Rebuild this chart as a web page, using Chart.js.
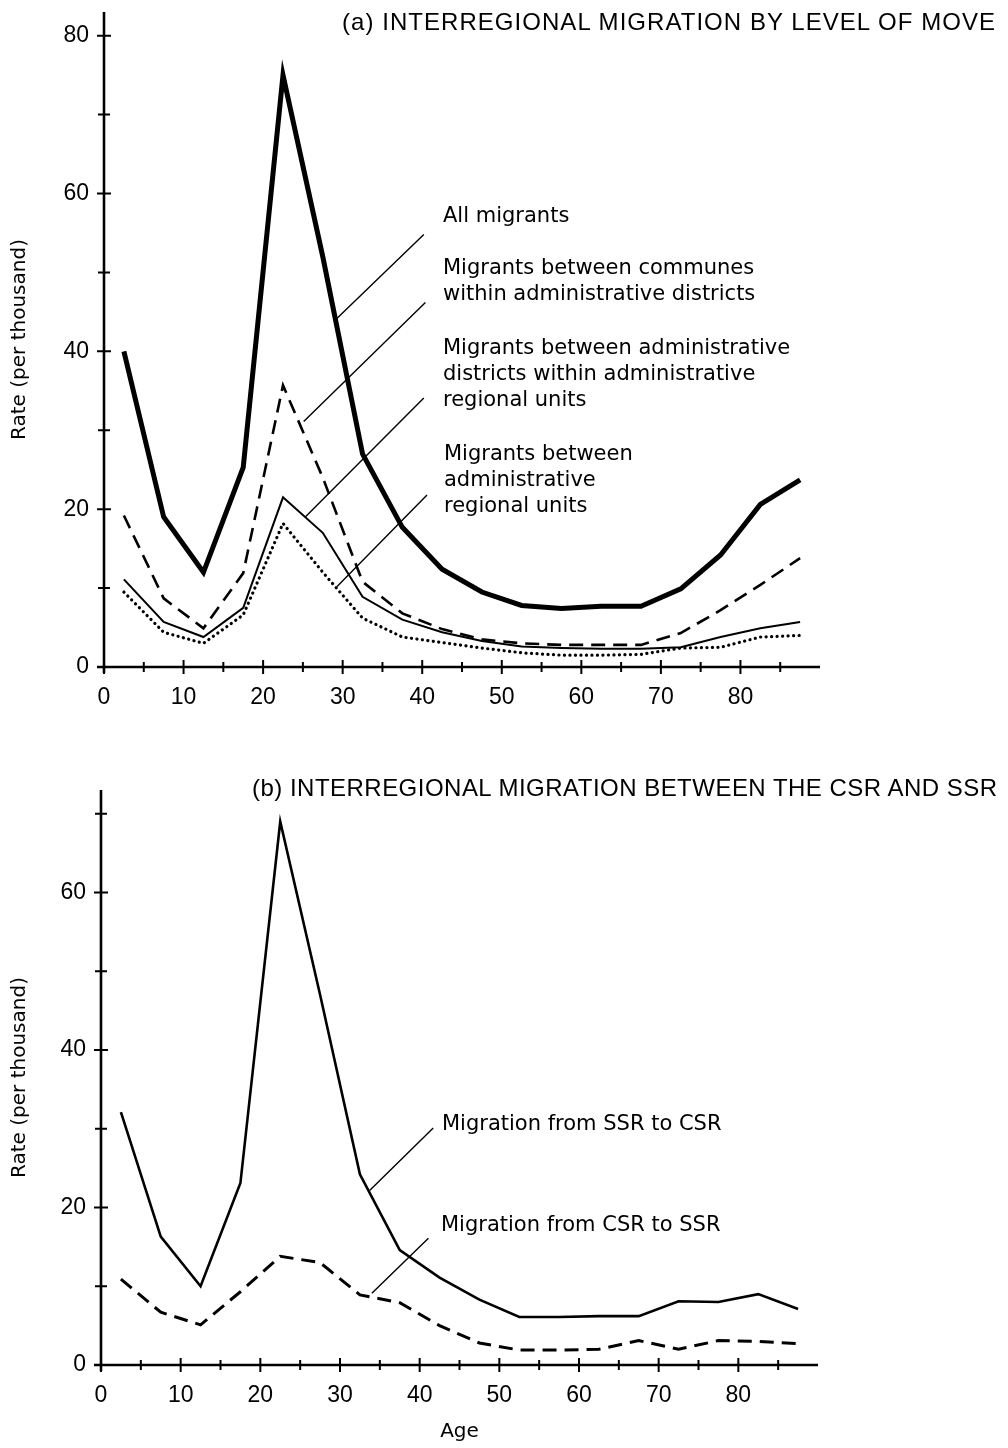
<!DOCTYPE html>
<html>
<head>
<meta charset="utf-8">
<script src="https://cdn.jsdelivr.net/npm/chart.js@4.4.0/dist/chart.umd.min.js"></script>
<style>
  body { margin: 0; background: #fff; }
  #page { position: relative; width: 1008px; height: 1448px; overflow: hidden; background: #fff; }
  canvas { position: absolute; left: 0; }
  .note { position: absolute; font-family: "DejaVu Sans", sans-serif; font-size: 21px; line-height: 26px; color: #000; white-space: nowrap; }
  .title { position: absolute; font-family: "Liberation Sans", Arial, sans-serif; font-size: 24px; line-height: 26px; color: #000; white-space: nowrap; }
</style>
</head>
<body>
<div id="page">
  <canvas id="chartTop" width="1008" height="724" style="top:0"></canvas>
  <canvas id="chartBottom" width="1008" height="724" style="top:724px"></canvas>

  <div class="title" data-width="653" style="left:342px;top:9px">(a) INTERREGIONAL MIGRATION BY LEVEL OF MOVE</div>
  <div class="title" data-width="745" style="left:252px;top:775px">(b) INTERREGIONAL MIGRATION BETWEEN THE CSR AND SSR</div>

  <div class="note" style="left:443px;top:202px">All migrants</div>
  <div class="note" style="left:443px;top:254px">Migrants between communes<br>within administrative districts</div>
  <div class="note" style="left:443px;top:334px">Migrants between administrative<br>districts within administrative<br>regional units</div>
  <div class="note" style="left:444px;top:440px">Migrants between<br>administrative<br>regional units</div>

  <div class="note" style="left:442px;top:1110px">Migration from SSR to CSR</div>
  <div class="note" style="left:441px;top:1211px">Migration from CSR to SSR</div>
</div>

<script>
// age group midpoints
const ages = [2.5, 7.5, 12.5, 17.5, 22.5, 27.5, 32.5, 37.5, 42.5, 47.5, 52.5, 57.5, 62.5, 67.5, 72.5, 77.5, 82.5, 87.5];

// (a) by level of move
const allMigrants = [40, 19, 12, 25.3, 75, 52, 27, 17.7, 12.4, 9.5, 7.8, 7.4, 7.7, 7.7, 9.9, 14.2, 20.6, 23.7];
const betweenCommunes = [19.2, 8.7, 4.9, 11.9, 35.7, 24, 10.8, 6.8, 4.8, 3.5, 3.0, 2.8, 2.8, 2.8, 4.3, 7.2, 10.4, 13.8];
const betweenDistricts = [11.1, 5.7, 3.8, 7.5, 21.5, 17, 8.9, 6.0, 4.4, 3.3, 2.6, 2.4, 2.3, 2.3, 2.5, 3.8, 4.9, 5.7];
const betweenRegions = [9.5, 4.4, 3.0, 6.6, 18.2, 12, 6.2, 3.8, 3.1, 2.4, 1.8, 1.5, 1.5, 1.6, 2.4, 2.5, 3.8, 4.0];

// (b) between CSR and SSR
const ssrToCsr = [32.1, 16.3, 10.0, 23.1, 69.0, 47, 24.2, 14.6, 11.1, 8.3, 6.1, 6.1, 6.2, 6.2, 8.1, 8.0, 9.0, 7.1];
const csrToSsr = [10.9, 6.7, 5.1, 9.3, 13.8, 13.0, 8.9, 7.9, 5.0, 2.8, 1.9, 1.9, 2.0, 3.1, 2.0, 3.1, 3.0, 2.7];

// ticks
const xTickMarks = [0, 5, 10, 15, 20, 25, 30, 35, 40, 45, 50, 55, 60, 65, 70, 75, 80, 85];
const xTickLabels = [0, 10, 20, 30, 40, 50, 60, 70, 80];
const topYTickMarks = [0, 10, 20, 30, 40, 50, 60, 70, 80];
const topYTickLabels = [0, 20, 40, 60, 80];
const bottomYTickMarks = [0, 10, 20, 30, 40, 50, 60, 70];
const bottomYTickLabels = [0, 20, 40, 60];

// leader lines from labels to curves: [age1, rate1, age2, rate2]
const topLeaders = [
  [40.2, 54.8, 29.3, 44.2],
  [40.4, 46.2, 25.1, 31.1],
  [40.2, 34.1, 25.3, 19.0],
  [40.6, 21.8, 29.3, 10.2]
];
const bottomLeaders = [
  [41.7, 30.1, 33.75, 22.2],
  [41.1, 16.1, 34.0, 9.1]
];

function pts(values) {
  return ages.map((a, i) => ({ x: a, y: values[i] }));
}

// axis lines with ticks crossing them, plus the label leaders
const axesPlugin = {
  id: "axesPlugin",
  afterDraw(chart, args, opts) {
    const { ctx } = chart;
    const x = chart.scales.x;
    const y = chart.scales.y;
    const x0 = x.getPixelForValue(0);
    const y0 = y.getPixelForValue(0);
    ctx.save();
    ctx.strokeStyle = "#000";
    ctx.lineCap = "butt";

    ctx.lineWidth = 2.6;
    ctx.beginPath();
    ctx.moveTo(x0, y.getPixelForValue(y.max));
    ctx.lineTo(x0, y0 + 6);
    ctx.moveTo(x0 - 7, y0);
    ctx.lineTo(x.getPixelForValue(x.max), y0);
    ctx.stroke();

    ctx.lineWidth = 2;
    ctx.beginPath();
    opts.yMarks.forEach((v) => {
      const p = y.getPixelForValue(v);
      const h = v % 20 === 0 ? 7 : 6;
      ctx.moveTo(x0 - h, p);
      ctx.lineTo(x0 + h, p);
    });
    opts.xMarks.forEach((v) => {
      const p = x.getPixelForValue(v);
      const h = v % 10 === 0 ? 7 : 5;
      ctx.moveTo(p, y0 - h);
      ctx.lineTo(p, y0 + h);
    });
    ctx.stroke();

    ctx.lineWidth = 1.4;
    ctx.beginPath();
    opts.leaders.forEach(([a1, r1, a2, r2]) => {
      ctx.moveTo(x.getPixelForValue(a1), y.getPixelForValue(r1));
      ctx.lineTo(x.getPixelForValue(a2), y.getPixelForValue(r2));
    });
    ctx.stroke();
    ctx.restore();
  }
};

function lineSet(values, width, dash, cap) {
  return {
    data: pts(values),
    borderColor: "#000",
    borderWidth: width,
    borderDash: dash || [],
    borderCapStyle: cap || "butt",
    borderJoinStyle: "miter",
    pointRadius: 0,
    tension: 0,
    fill: false
  };
}

function makeOptions(cfg) {
  return {
    responsive: false,
    animation: false,
    layout: { padding: cfg.padding },
    plugins: {
      legend: { display: false },
      tooltip: { enabled: false },
      axesPlugin: { xMarks: xTickMarks, yMarks: cfg.yMarks, leaders: cfg.leaders }
    },
    scales: {
      x: {
        type: "linear",
        min: 0,
        max: 90,
        grid: { display: false, drawTicks: false },
        border: { display: false },
        afterBuildTicks: (s) => { s.ticks = xTickLabels.map((v) => ({ value: v })); },
        afterFit: (s) => { s.height = cfg.xHeight; },
        ticks: { color: "#000", padding: 17, maxRotation: 0, font: { family: "Liberation Sans", size: 23 } },
        title: cfg.xTitle
      },
      y: {
        min: 0,
        max: cfg.yMax,
        // invisible tick length keeps the label gap without extra top padding
        grid: { display: false, drawTicks: true, tickLength: 15 },
        border: { display: false },
        afterBuildTicks: (s) => { s.ticks = cfg.yLabels.map((v) => ({ value: v })); },
        afterFit: (s) => { s.width = cfg.yWidth; },
        ticks: { color: "#000", padding: 0, font: { family: "Liberation Sans", size: 23, lineHeight: 1 } },
        title: {
          display: true,
          text: "Rate (per thousand)",
          color: "#000",
          padding: { top: 8, bottom: 0 },
          font: { family: "DejaVu Sans", size: 20 }
        }
      }
    }
  };
}

new Chart(document.getElementById("chartTop"), {
  type: "line",
  data: {
    datasets: [
      lineSet(allMigrants, 5),
      lineSet(betweenCommunes, 2.6, [14, 8]),
      lineSet(betweenDistricts, 2),
      lineSet(betweenRegions, 3.2, [0.1, 5.4], "round")
    ]
  },
  options: makeOptions({
    padding: { left: 0, top: 12, right: 188, bottom: 0 },
    xHeight: 57,
    yWidth: 104,
    yMax: 83,
    yMarks: topYTickMarks,
    yLabels: topYTickLabels,
    leaders: topLeaders,
    xTitle: { display: false }
  }),
  plugins: [axesPlugin]
});

new Chart(document.getElementById("chartBottom"), {
  type: "line",
  data: {
    datasets: [
      lineSet(ssrToCsr, 2.6),
      lineSet(csrToSsr, 3, [14, 8])
    ]
  },
  options: makeOptions({
    padding: { left: 0, top: 66, right: 190, bottom: 0 },
    xHeight: 83,
    yWidth: 101,
    yMax: 73,
    yMarks: bottomYTickMarks,
    yLabels: bottomYTickLabels,
    leaders: bottomLeaders,
    xTitle: {
      display: true,
      text: "Age",
      color: "#000",
      padding: { top: 0, bottom: 4 },
      font: { family: "DejaVu Sans", size: 20 }
    }
  }),
  plugins: [axesPlugin]
});

// spread the panel titles to their printed width
document.querySelectorAll(".title").forEach((el) => {
  const target = Number(el.dataset.width);
  const natural = el.getBoundingClientRect().width;
  const n = el.textContent.length;
  el.style.letterSpacing = ((target - natural) / (n - 1)) + "px";
});
</script>
</body>
</html>
